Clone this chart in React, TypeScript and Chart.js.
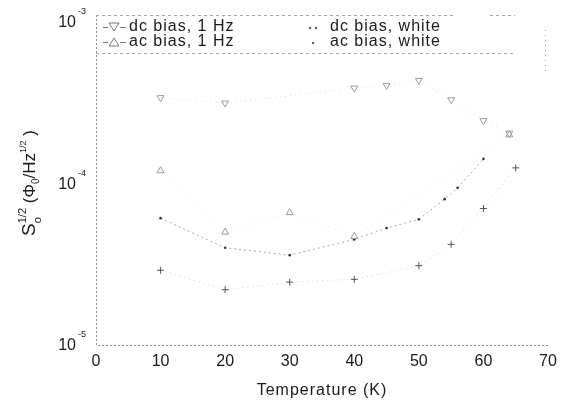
import React, { useEffect, useRef } from 'react';
import { Chart, registerables } from 'chart.js';

Chart.register(...registerables);

// ---- data ----
const xTickValues = [0, 10, 20, 30, 40, 50, 60, 70];
const yTickValues = [1e-3, 1e-4, 1e-5];
const yTickExponents = ['-3', '-4', '-5'];

const tempDc1Hz = [10, 20, 40, 45, 50, 55, 60, 64];
const dc1Hz = [3.4e-4, 3.15e-4, 3.9e-4, 4.05e-4, 4.35e-4, 3.3e-4, 2.45e-4, 2.05e-4];

const tempAc1Hz = [10, 20, 30, 40, 64];
const ac1Hz = [1.2e-4, 5.0e-5, 6.6e-5, 4.7e-5, 2.0e-4];

const tempDcWhite = [10, 20, 30, 40, 45, 50, 54, 56, 60];
const dcWhite = [6.1e-5, 4.0e-5, 3.6e-5, 4.5e-5, 5.3e-5, 6.0e-5, 8.0e-5, 9.4e-5, 1.42e-4];

const tempAcWhite = [10, 20, 30, 40, 50, 55, 60, 65];
const acWhite = [2.9e-5, 2.2e-5, 2.45e-5, 2.55e-5, 3.1e-5, 4.2e-5, 7.0e-5, 1.25e-4];

const legendLeft = ['dc bias, 1 Hz', 'ac bias, 1 Hz'];
const legendRight = ['dc bias, white', 'ac bias, white'];

const FONT = '"Liberation Sans", Arial, sans-serif';

const pts = (xs: number[], ys: number[]) => xs.map((x, i) => ({ x, y: ys[i] }));

const decorPlugin = {
  id: 'decor',
  beforeDatasetsDraw(chart: any) {
    const { ctx, chartArea } = chart;
    const { left, right, bottom } = chartArea;
    ctx.save();
    ctx.strokeStyle = '#8c8c8c';
    ctx.lineWidth = 1;
    ctx.setLineDash([2, 2]);
    ctx.beginPath();
    ctx.moveTo(left + 0.5, 15);
    ctx.lineTo(left + 0.5, bottom + 0.5);
    ctx.lineTo(right, bottom + 0.5);
    ctx.stroke();
    // legend frame
    ctx.strokeStyle = '#a8a8a8';
    ctx.setLineDash([3, 3]);
    ctx.beginPath();
    ctx.moveTo(left, 15.5);
    ctx.lineTo(455, 15.5);
    ctx.moveTo(490, 15.5);
    ctx.lineTo(515, 15.5);
    ctx.moveTo(left, 53.5);
    ctx.lineTo(515, 53.5);
    ctx.stroke();
    ctx.setLineDash([1, 4]);
    ctx.beginPath();
    ctx.moveTo(545.5, 30);
    ctx.lineTo(545.5, 72);
    ctx.stroke();
    ctx.restore();
  },
  afterDraw(chart: any) {
    const { ctx, chartArea, scales } = chart;
    const { left, right, bottom } = chartArea;
    const xs = scales.x;
    const ys = scales.y;
    ctx.save();
    ctx.fillStyle = '#1a1a1a';
    // y tick labels
    yTickValues.forEach((v, i) => {
      const py = ys.getPixelForValue(v);
      ctx.font = '16px ' + FONT;
      ctx.textAlign = 'right';
      ctx.textBaseline = 'middle';
      ctx.fillText('10', 76, py + 1);
      ctx.font = '9px ' + FONT;
      ctx.textAlign = 'left';
      ctx.fillText(yTickExponents[i], 78, py - 10);
    });
    // x tick labels
    ctx.font = '16px ' + FONT;
    ctx.textAlign = 'center';
    ctx.textBaseline = 'middle';
    xTickValues.forEach((v) => {
      ctx.fillText(String(v), xs.getPixelForValue(v), bottom + 17);
    });
    // x title
    (ctx as any).letterSpacing = '1px';
    ctx.fillText('Temperature (K)', (left + right) / 2, bottom + 46);
    (ctx as any).letterSpacing = '0px';

    // y title
    ctx.save();
    ctx.translate(29, 183);
    ctx.rotate(-Math.PI / 2);
    const parts: [string, number, number][] = [
      ['S', 19, 0],
      ['1/2', 11, -9],
      ['o', 11, 6],
      [' (\u03A6', 17, 0],
      ['0', 10, 4],
      ['/Hz', 17, 0],
      ['1/2', 9, -9],
      [' )', 17, 0],
    ];
    let total = 0;
    parts.forEach(([t, s], idx) => {
      if (idx === 2) return;
      ctx.font = s + 'px ' + FONT;
      total += ctx.measureText(t).width;
    });
    let cx = -total / 2;
    ctx.textAlign = 'left';
    ctx.textBaseline = 'alphabetic';
    let prevSupX = 0;
    parts.forEach(([t, s, dy], idx) => {
      ctx.font = s + 'px ' + FONT;
      if (idx === 2) {
        ctx.fillText(t, prevSupX, 6 + dy);
        return;
      }
      if (idx === 1) prevSupX = cx;
      ctx.fillText(t, cx, 6 + dy);
      cx += ctx.measureText(t).width;
    });
    ctx.restore();

    // legend
    const rows = [27, 42];
    ctx.strokeStyle = '#777';
    ctx.lineWidth = 1;
    rows.forEach((ry, i) => {
      ctx.beginPath();
      ctx.moveTo(103, ry + 0.5);
      ctx.lineTo(108, ry + 0.5);
      ctx.moveTo(120, ry + 0.5);
      ctx.lineTo(126, ry + 0.5);
      ctx.stroke();
      ctx.beginPath();
      if (i === 0) {
        ctx.moveTo(109, ry - 4);
        ctx.lineTo(119, ry - 4);
        ctx.lineTo(114, ry + 4);
      } else {
        ctx.moveTo(109, ry + 4);
        ctx.lineTo(119, ry + 4);
        ctx.lineTo(114, ry - 4);
      }
      ctx.closePath();
      ctx.stroke();
      ctx.fillStyle = '#1a1a1a';
      ctx.font = '16px ' + FONT;
      ctx.textAlign = 'left';
      ctx.textBaseline = 'middle';
      (ctx as any).letterSpacing = '1px';
      ctx.fillText(legendLeft[i], 129, ry);
      ctx.fillText(legendRight[i], 330, ry);
      (ctx as any).letterSpacing = '0px';
    });
    ctx.fillStyle = '#555';
    ctx.fillRect(309, 27, 2, 2);
    ctx.fillRect(315, 27, 2, 2);
    ctx.fillRect(312, 42, 2, 2);
    ctx.restore();
  },
};

export default function App() {
  const ref = useRef<HTMLCanvasElement | null>(null);
  useEffect(() => {
    if (!ref.current) return;
    const chart = new Chart(ref.current, {
      type: 'scatter',
      data: {
        datasets: [
          {
            label: 'dc bias, 1 Hz',
            data: pts(tempDc1Hz, dc1Hz),
            showLine: true,
            borderColor: '#dedede',
            borderWidth: 1,
            borderDash: [1, 4],
            pointStyle: 'triangle',
            rotation: 180,
            pointRadius: 4,
            pointBorderColor: '#9a9a9a',
            pointBackgroundColor: 'rgba(0,0,0,0)',
            pointBorderWidth: 1,
          },
          {
            label: 'ac bias, 1 Hz',
            data: pts(tempAc1Hz, ac1Hz),
            showLine: true,
            borderColor: '#e4e4e4',
            borderWidth: 1,
            borderDash: [1, 5],
            pointStyle: 'triangle',
            pointRadius: 4,
            pointBorderColor: '#9a9a9a',
            pointBackgroundColor: 'rgba(0,0,0,0)',
            pointBorderWidth: 1,
          },
          {
            label: 'dc bias, white',
            data: pts(tempDcWhite, dcWhite),
            showLine: true,
            borderColor: '#a8a8a8',
            borderWidth: 1,
            borderDash: [2, 3],
            pointStyle: 'circle',
            pointRadius: 1.3,
            pointBorderColor: '#333',
            pointBackgroundColor: '#333',
            pointBorderWidth: 0,
          },
          {
            label: 'ac bias, white',
            data: pts(tempAcWhite, acWhite),
            showLine: true,
            borderColor: '#d4d4d4',
            borderWidth: 1,
            borderDash: [1, 4],
            pointStyle: 'cross',
            pointRadius: 3.5,
            pointBorderColor: '#555',
            pointBorderWidth: 1,
          },
        ],
      },
      options: {
        animation: false,
        responsive: false,
        devicePixelRatio: 1,
        layout: { padding: { left: 96, right: 16, top: 22, bottom: 58 } },
        plugins: { legend: { display: false }, tooltip: { enabled: false } },
        elements: { line: { tension: 0 } },
        scales: {
          x: { type: 'linear', min: 0, max: 70, display: false },
          y: { type: 'logarithmic', min: 1e-5, max: 1e-3, display: false },
        },
        clip: false as any,
      },
      plugins: [decorPlugin],
    });
    return () => chart.destroy();
  }, []);
  return (
    <div style={{ position: 'absolute', left: 0, top: 0, width: 564, height: 403, background: '#fff' }}>
      <canvas ref={ref} width={564} height={403} style={{ display: 'block' }} />
    </div>
  );
}
